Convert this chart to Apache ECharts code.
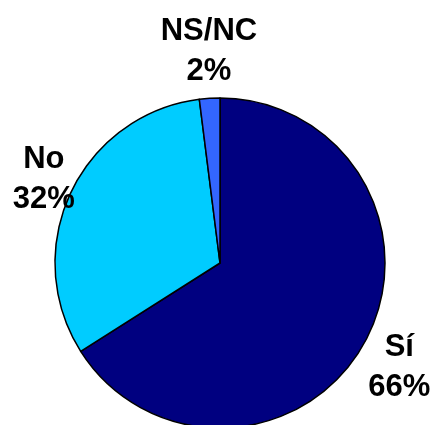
<!DOCTYPE html>
<html>
<head>
<meta charset="utf-8">
<script src="https://cdn.jsdelivr.net/npm/echarts@6/dist/echarts.min.js"></script>
<style>
html,body{margin:0;padding:0;background:#fff;}
#main{width:433px;height:425px;}
</style>
</head>
<body>
<div id="main"></div>
<script>
// datos de la encuesta
var categorias = ['Sí', 'No', 'NS/NC'];
var valores = [66, 32, 2];
var colores = ['#000080', '#00CCFF', '#3366FF'];

var myChart = echarts.init(document.getElementById('main'));

var datos = categorias.map(function (c, i) {
	return { name: c, value: valores[i], itemStyle: { color: colores[i] } };
});

// pequeños ajustes de posición de cada etiqueta (px)
var ajusteEtiqueta = [[-3, 4], [12, 5], [2, -4]];

var option = {
	animation: false,
	series: [{
		// tarta principal
		type: 'pie',
		center: [220, 263],
		radius: 165,
		startAngle: 90,
		clockwise: true,
		silent: true,
		label: { show: false },
		labelLine: { show: false },
		itemStyle: { borderColor: '#000', borderWidth: 1.5 },
		data: datos
	}, {
		// anillo invisible solo para colocar las etiquetas
		type: 'pie',
		center: [220, 263],
		radius: [165, 245],
		startAngle: 90,
		clockwise: true,
		silent: true,
		itemStyle: { color: 'transparent', borderWidth: 0 },
		labelLine: { show: false },
		label: {
			show: true,
			position: 'inside',
			formatter: '{b}\n{d}%',
			color: '#000',
			fontFamily: 'Liberation Sans, Arial, sans-serif',
			fontWeight: 'bold',
			fontSize: 31,
			lineHeight: 40,
			align: 'center'
		},
		labelLayout: function (p) {
			var a = ajusteEtiqueta[p.dataIndex];
			return { dx: a[0], dy: a[1] };
		},
		data: categorias.map(function (c, i) { return { name: c, value: valores[i] }; })
	}]
};
myChart.setOption(option);
</script>
</body>
</html>
